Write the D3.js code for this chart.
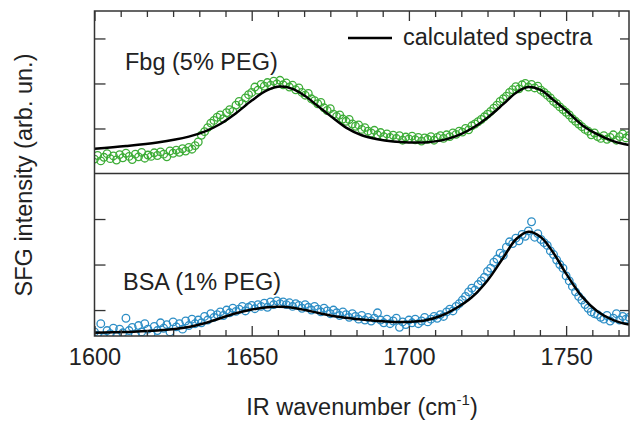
<!DOCTYPE html>
<html>
<head>
<meta charset="utf-8">
<script src="https://cdn.jsdelivr.net/npm/d3@7/dist/d3.min.js"></script>
<style>
  html, body { margin: 0; padding: 0; background: #fff; }
  svg { display: block; font-family: "Liberation Sans", Arial, sans-serif; }
</style>
</head>
<body>
<svg id="chart" width="632" height="425"></svg>
<script>
// ---------- data ----------
const wavenumberStart = 1600;   // data points every 1 cm^-1 from 1600 to 1770
const fbgData = [
  0.32, 0.40, 0.28, 0.36, 0.44, 0.33, 0.39, 0.30, 0.42, 0.35,
  0.45, 0.38, 0.31, 0.43, 0.37, 0.47, 0.34, 0.41, 0.38, 0.46,
  0.40, 0.48, 0.43, 0.37, 0.50, 0.45, 0.52, 0.47, 0.55, 0.50,
  0.58, 0.54, 0.62, 0.70, 0.85, 0.93, 1.02, 1.12, 1.18, 1.25,
  1.30, 1.22, 1.35, 1.42, 1.38, 1.52, 1.60, 1.55, 1.68, 1.75,
  1.80, 1.92, 1.85, 1.98, 1.94, 2.02, 1.96, 2.05, 1.99, 2.07,
  1.97, 2.01, 1.92, 1.96, 1.86, 1.90, 1.80, 1.74, 1.78, 1.66,
  1.62, 1.55, 1.58, 1.46, 1.40, 1.44, 1.32, 1.27, 1.30, 1.21,
  1.16, 1.20, 1.10, 1.05, 1.08, 0.98, 1.02, 0.94, 0.90, 0.96,
  0.86, 0.91, 0.82, 0.88, 0.80, 0.85, 0.78, 0.84, 0.74, 0.81,
  0.77, 0.83, 0.75, 0.80, 0.72, 0.79, 0.76, 0.82, 0.74, 0.80,
  0.84, 0.78, 0.86, 0.82, 0.90, 0.87, 0.94, 0.92, 1.00, 0.97,
  1.06, 1.10, 1.15, 1.20, 1.26, 1.32, 1.38, 1.45, 1.52, 1.60,
  1.66, 1.72, 1.80, 1.86, 1.93, 1.88, 1.97, 2.00, 1.92, 1.98,
  1.90, 1.94, 1.85, 1.80, 1.74, 1.68, 1.60, 1.55, 1.48, 1.42,
  1.36, 1.30, 1.22, 1.16, 1.10, 1.04, 0.98, 0.94, 0.86, 0.90,
  0.82, 0.78, 0.84, 0.76, 0.80, 0.86, 0.74, 0.82, 0.88, 0.79,
  0.84
];
const bsaData = [
  0.52, 0.45, 0.70, 0.40, 0.55, 0.48, 0.60, 0.42, 0.58, 0.50,
  0.82, 0.55, 0.62, 0.47, 0.66, 0.52, 0.70, 0.58, 0.48, 0.64,
  0.55, 0.72, 0.60, 0.68, 0.52, 0.74, 0.63, 0.70, 0.58, 0.76,
  0.66, 0.80, 0.70, 0.78, 0.72, 0.86, 0.78, 0.92, 0.84, 0.90,
  0.96, 0.88, 1.00, 0.94, 1.04, 0.97, 1.02, 1.08, 0.98, 1.06,
  1.10, 1.03, 1.12, 1.08, 1.15, 1.06, 1.18, 1.12, 1.20, 1.14,
  1.18, 1.12, 1.16, 1.08, 1.14, 1.10, 1.04, 1.12, 1.06, 1.00,
  1.08, 1.02, 0.96, 1.04, 0.98, 0.92, 1.00, 0.94, 0.88, 0.96,
  0.90, 0.84, 0.92, 0.86, 0.80, 0.88, 0.78, 0.84, 0.76, 0.82,
  0.94, 0.78, 0.72, 0.80, 0.70, 0.76, 0.82, 0.62, 0.74, 0.68,
  0.78, 0.72, 0.80, 0.70, 0.76, 0.84, 0.74, 0.80, 0.86, 0.82,
  0.90, 0.86, 0.96, 1.02, 0.98, 1.08, 1.14, 1.22, 1.30, 1.40,
  1.48, 1.44, 1.56, 1.64, 1.72, 1.85, 1.92, 2.05, 2.12, 2.25,
  2.20, 2.38, 2.50, 2.46, 2.58, 2.52, 2.66, 2.62, 2.74, 2.94,
  2.60, 2.68, 2.55, 2.48, 2.42, 2.30, 2.22, 2.10, 2.00, 1.92,
  1.75, 1.64, 1.52, 1.40, 1.30, 1.22, 1.12, 1.04, 0.96, 0.92,
  0.90, 0.84, 0.80, 0.88, 0.76, 0.82, 0.92, 0.78, 0.86, 0.80,
  0.84
];
const fitWavenumbers = [1600,1610,1620,1630,1635,1640,1645,1650,1655,1659,1663,1667,1671,1675,1680,1685,1690,1695,1700,1705,1710,1715,1720,1725,1730,1734,1738,1742,1746,1750,1755,1760,1765,1770];
const fbgFit = [0.55,0.61,0.69,0.82,0.93,1.10,1.34,1.62,1.85,1.93,1.88,1.72,1.50,1.28,1.02,0.85,0.76,0.71,0.69,0.69,0.73,0.83,1.00,1.24,1.54,1.79,1.92,1.85,1.63,1.40,1.08,0.87,0.72,0.63];
const bsaFit = [0.50,0.52,0.55,0.63,0.71,0.82,0.93,1.01,1.06,1.07,1.05,1.00,0.94,0.88,0.83,0.79,0.76,0.74,0.74,0.77,0.87,1.04,1.28,1.65,2.15,2.55,2.72,2.60,2.25,1.80,1.30,0.97,0.78,0.68];
const xMajorTicks = [1600, 1650, 1700, 1750];
const yTicks = [1, 2, 3];
const panelLabels = ["Fbg (5% PEG)", "BSA (1% PEG)"];
const legendLabel = "calculated spectra";
const xTitle = "IR wavenumber (cm";
const yTitle = "SFG intensity (arb. un.)";

// ---------- layout ----------
const L = 94.5, R = 629, T = 11, MID = 173.5, B = 336;
const FONT = 23.5;
const green = "#3ead38", blue = "#2d8ec6";

const svg = d3.select("#chart");
const x = d3.scaleLinear().domain([1600, 1770]).range([L, R]);
const yTop = d3.scaleLinear().domain([0, 3.61]).range([MID, T]);
const yBot = d3.scaleLinear().domain([0.43, 4.0]).range([B, MID]);

const minorTicks = d3.range(0, 21).map(i => 1600 + i * 50 / 6).filter(v => v < 1770 && !xMajorTicks.some(m => Math.abs(m - v) < 1e-6));

svg.append("defs").append("clipPath").attr("id", "clip")
  .append("rect").attr("x", L).attr("y", T).attr("width", R - L).attr("height", B - T);

const plot = svg.append("g").attr("clip-path", "url(#clip)");

function drawPanel(data, fit, yScale, color) {
  const pts = data.map((v, i) => [wavenumberStart + i, v]);
  plot.append("g").selectAll("circle").data(pts).join("circle")
    .attr("cx", d => x(d[0])).attr("cy", d => yScale(d[1])).attr("r", 3.8)
    .attr("fill", "none").attr("stroke", color).attr("stroke-width", 1.3);
  const line = d3.line().x((d, i) => x(fitWavenumbers[i])).y(d => yScale(d)).curve(d3.curveCatmullRom.alpha(0.5));
  plot.append("path").datum(fit).attr("d", line)
    .attr("fill", "none").attr("stroke", "#000").attr("stroke-width", 2.5);
}
drawPanel(fbgData, fbgFit, yTop, green);
drawPanel(bsaData, bsaFit, yBot, blue);

// ---------- axes ----------
const axisColor = "#333";
function styleAxis(g) {
  g.select(".domain").remove();
  g.selectAll(".tick line").attr("stroke", axisColor).attr("stroke-width", 1.3);
}
// bottom
svg.append("g").attr("transform", `translate(0,${B})`)
  .call(d3.axisBottom(x).tickValues(xMajorTicks).tickSizeInner(-10).tickSizeOuter(0).tickPadding(12.5).tickFormat(d3.format("d")))
  .call(styleAxis)
  .call(g => g.selectAll("text").attr("font-size", FONT).attr("fill", "#222").attr("font-family", "Liberation Sans, Arial, sans-serif"));
svg.append("g").attr("transform", `translate(0,${B})`)
  .call(d3.axisBottom(x).tickValues(minorTicks).tickSizeInner(-6).tickSizeOuter(0).tickFormat(""))
  .call(styleAxis);
// top
svg.append("g").attr("transform", `translate(0,${T})`)
  .call(d3.axisTop(x).tickValues(xMajorTicks).tickSizeInner(-10).tickSizeOuter(0).tickFormat(""))
  .call(styleAxis);
svg.append("g").attr("transform", `translate(0,${T})`)
  .call(d3.axisTop(x).tickValues(minorTicks).tickSizeInner(-6).tickSizeOuter(0).tickFormat(""))
  .call(styleAxis);
// left/right for each panel
[yTop, yBot].forEach(ys => {
  svg.append("g").attr("transform", `translate(${L},0)`)
    .call(d3.axisLeft(ys).tickValues(yTicks).tickSizeInner(-11).tickSizeOuter(0).tickFormat(""))
    .call(styleAxis);
  svg.append("g").attr("transform", `translate(${R},0)`)
    .call(d3.axisRight(ys).tickValues(yTicks).tickSizeInner(-9).tickSizeOuter(0).tickFormat(""))
    .call(styleAxis);
});

// frame and divider
svg.append("rect").attr("x", L).attr("y", T).attr("width", R - L).attr("height", B - T)
  .attr("fill", "none").attr("stroke", axisColor).attr("stroke-width", 1.5);
svg.append("line").attr("x1", L).attr("x2", R).attr("y1", MID).attr("y2", MID)
  .attr("stroke", axisColor).attr("stroke-width", 1.5);

// ---------- text ----------
const textColor = "#222";
svg.append("text").attr("x", 125).attr("y", 70).attr("font-size", FONT).attr("fill", textColor).text(panelLabels[0]);
svg.append("text").attr("x", 123).attr("y", 290).attr("font-size", FONT).attr("fill", textColor).text(panelLabels[1]);

// legend
svg.append("line").attr("x1", 348).attr("x2", 392).attr("y1", 38).attr("y2", 38)
  .attr("stroke", "#000").attr("stroke-width", 2.5);
svg.append("text").attr("x", 403).attr("y", 45).attr("font-size", FONT).attr("fill", textColor).text(legendLabel);

// x title
const xt = svg.append("text").attr("x", 362).attr("y", 415).attr("text-anchor", "middle")
  .attr("font-size", FONT).attr("fill", textColor);
xt.append("tspan").text(xTitle);
xt.append("tspan").attr("dy", -10).attr("font-size", 15).text("-1");
xt.append("tspan").attr("dy", 10).text(")");

// y title
svg.append("text").attr("transform", "translate(32,175) rotate(-90)").attr("text-anchor", "middle")
  .attr("font-size", FONT).attr("fill", textColor).text(yTitle);
</script>
</body>
</html>
